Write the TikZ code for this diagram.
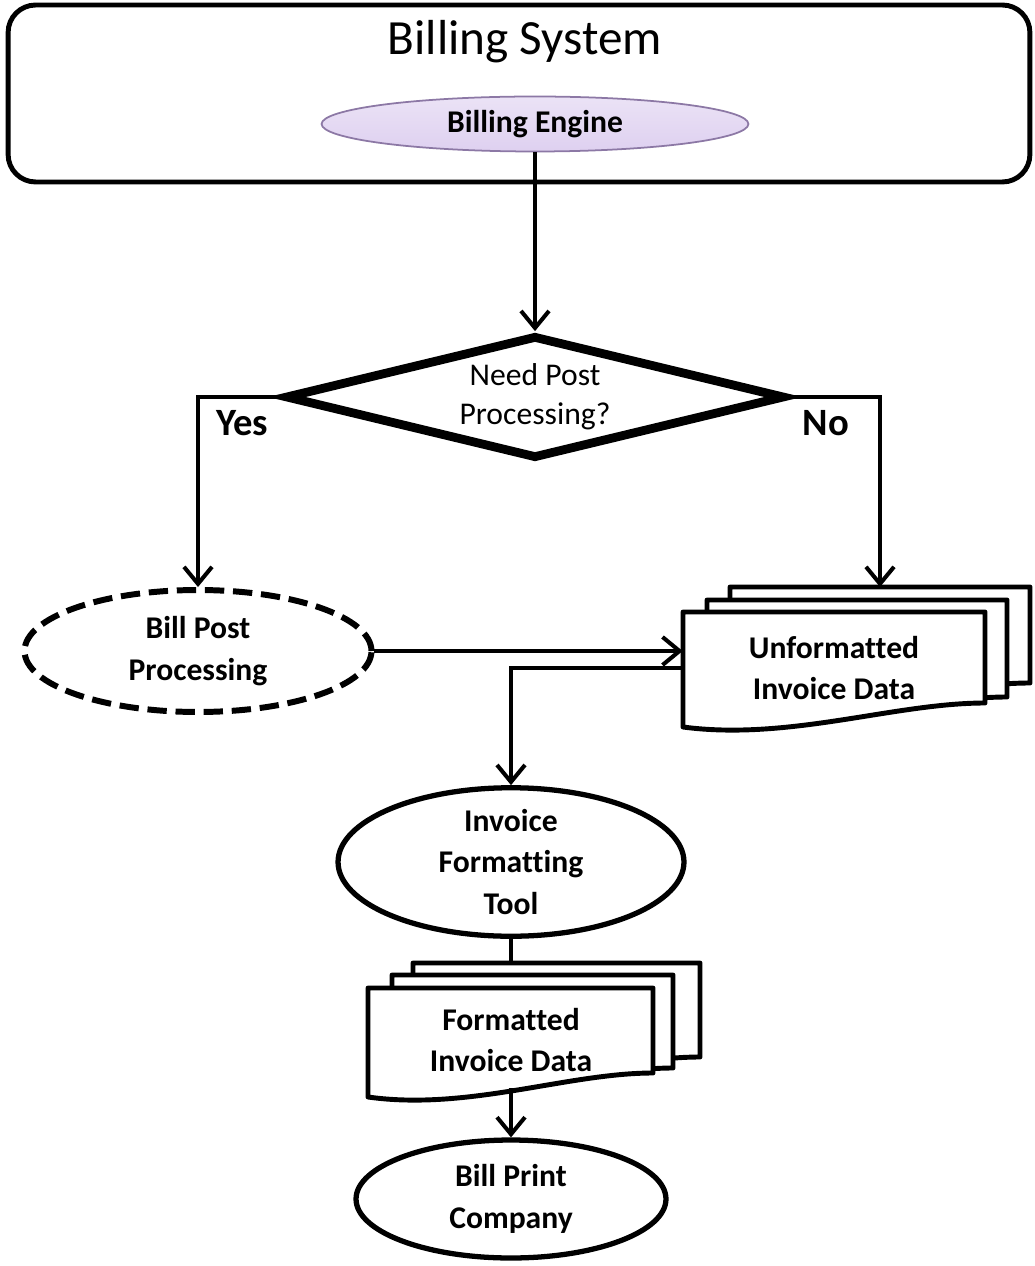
\documentclass[tikz,border=0pt]{standalone}
\usepackage{fontspec}
\setmainfont{Carlito}[Ligatures={NoCommon}]
\usetikzlibrary{shapes.geometric,arrows.meta}

\definecolor{enginefill}{RGB}{222,208,240}
\definecolor{engineedge}{RGB}{140,120,165}

\tikzset{
  flowline/.style={line width=2.3pt, -{Straight Barb[length=3.4mm,width=5.6mm]}},
  plainline/.style={line width=2.3pt},
  oval/.style={ellipse, draw, line width=3pt, inner sep=0pt, align=center,
    font=\fontsize{18}{23.5}\selectfont\bfseries},
  docedge/.style={line width=2.8pt, fill=white, line join=round},
  doctext/.style={inner sep=0pt, align=center, font=\fontsize{18}{23}\selectfont\bfseries},
  answer/.style={inner sep=0pt, font=\fontsize{22}{24}\selectfont\bfseries},
}

% one sheet of a document stack: left, top, right, bottom-left (px)
\newcommand{\docsheet}[4]{%
  \draw[docedge] (#1,#4) -- (#1,#2) -- (#3,#2) -- (#3,#4-24)
    .. controls ({#3-0.3*(#3-#1)},#4-24) and ({#1+0.35*(#3-#1)},#4+14) .. (#1,#4) -- cycle;}

\begin{document}
\begin{tikzpicture}[x=0.02cm, y=-0.02cm]
\useasboundingbox (0,0) rectangle (1034,1266);

% billing system
\node[draw, rounded corners=0.55cm, line width=2.8pt, minimum width=20.44cm, minimum height=3.54cm] (sys) at (519,93.5) {};
\node[inner sep=0pt, font=\fontsize{28}{32}\selectfont] (systitle) at (525,42) {Billing System};
\node[ellipse, draw=engineedge, line width=1pt, top color=enginefill!60, bottom color=enginefill, inner sep=0pt,
  minimum width=8.54cm, minimum height=1.1cm, font=\fontsize{18}{22}\selectfont\bfseries] (be) at (535,124) {Billing Engine};

% decision
\node[diamond, draw, line width=5pt, aspect=4, inner sep=0pt, minimum width=10cm, minimum height=2.46cm,
  align=center, font=\fontsize{18}{22}\selectfont] (need) at (535,397) {Need Post\\Processing?};
\node[answer] (yes) at (242,423) {Yes};
\node[answer] (no) at (826,423) {No};

\node[oval, dashed, dash pattern=on 11pt off 5pt, line width=3.4pt, minimum width=6.94cm, minimum height=2.44cm] (bpp) at (198,651) {Bill Post\\Processing};

% unformatted invoice data
\docsheet{730}{587}{1030}{707}
\docsheet{707}{600}{1007}{721}
\docsheet{683}{612}{985}{727}
\node[doctext, minimum width=6.04cm] (unf) at (834,668) {Unformatted\\Invoice Data};
\coordinate (unftop) at (880,587);

\node[oval, minimum width=6.92cm, minimum height=2.9cm] (ift) at (511,862) {Invoice\\Formatting\\Tool};

% formatted invoice data
\docsheet{413}{963}{700}{1081}
\docsheet{392}{975}{673}{1092}
\docsheet{368}{988}{653}{1097}
\node[doctext, minimum height=1.92cm] (fmt) at (511,1040) {Formatted\\Invoice Data};
\coordinate (fmttop) at (511,963);

\node[oval, minimum width=6.2cm, minimum height=2.36cm] (bpc) at (511,1199) {Bill Print\\Company};

% connectors
\draw[flowline] (be.south) -- (need.north);
\draw[flowline] (need.west) -| (bpp.north);
\draw[flowline] (need.east) -| (unftop);
\draw[flowline] (bpp.east) -- (bpp.east -| unf.west);
\draw[flowline] (unf.west) -| (ift.north);
\draw[plainline] (ift.south) -- (fmttop);
\draw[flowline] (fmt.south) -- (bpc.north);
\end{tikzpicture}
\end{document}
